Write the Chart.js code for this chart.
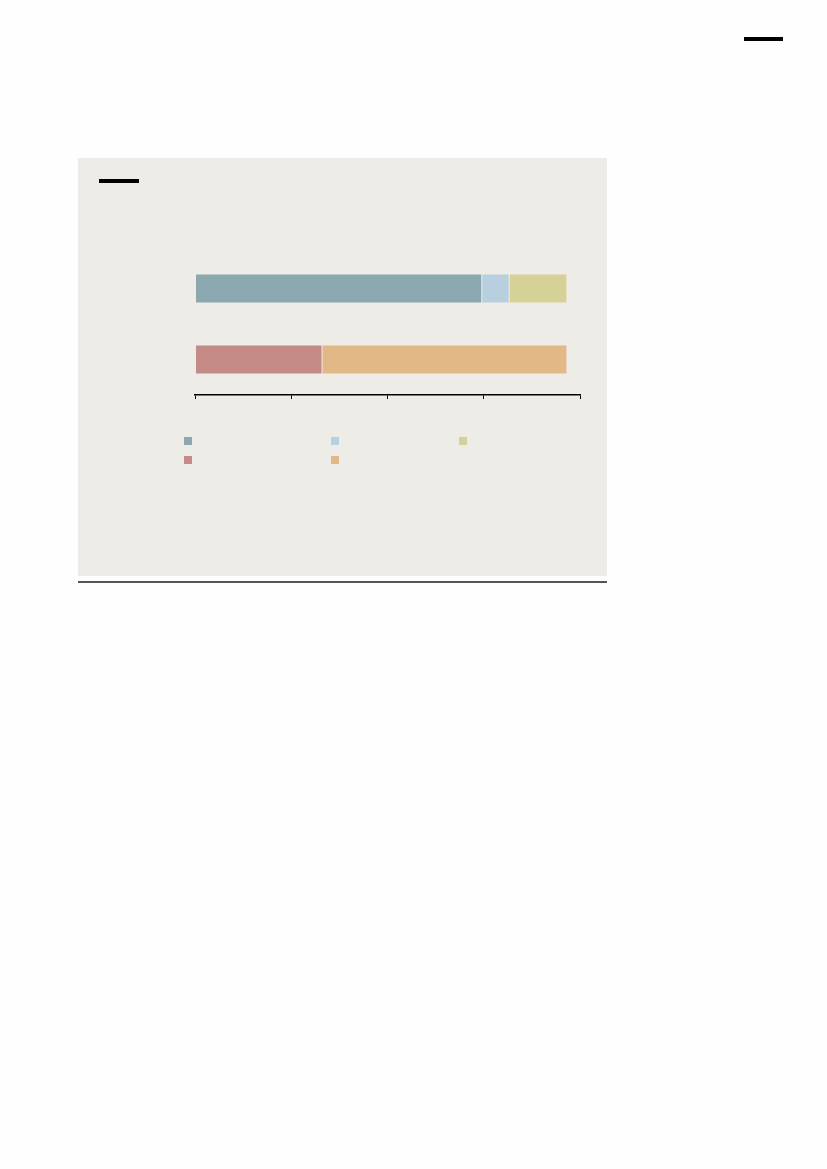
<!DOCTYPE html>
<html>
<head>
<meta charset="utf-8">
<script src="https://cdn.jsdelivr.net/npm/chart.js@4.4.1/dist/chart.umd.min.js"></script>
<style>
  html, body { margin: 0; padding: 0; background: #fefefe; }
  body { width: 827px; height: 1169px; position: relative; font-family: "Liberation Sans", Arial, sans-serif; }
  .rule-top { position: absolute; left: 744px; top: 37px; width: 39px; height: 4px; background: #000; }
  .panel { position: absolute; left: 78px; top: 158px; width: 529px; height: 418px; background: #edece6; }
  .rule-panel { position: absolute; left: 99px; top: 179px; width: 40px; height: 4px; background: #000; }
  .base { position: absolute; left: 78px; top: 581px; width: 529px; height: 2px; background: #555; }
  .wrap { position: absolute; left: 175px; top: 243px; width: 420px; height: 156px; }
  #legend { position: absolute; left: 184px; top: 437px; width: 400px; }
  .item { position: absolute; width: 8px; height: 8px; box-sizing: border-box; }
</style>
</head>
<body>
<div class="rule-top"></div>
<div class="panel"></div>
<div class="rule-panel"></div>
<div class="base"></div>
<div class="wrap"><canvas id="chart"></canvas></div>
<div id="legend"></div>
<script>
// two rows, each a stacked share
const categories = ["", ""];
const seriesLabels = ["", "", "", "", ""];
const seriesColors = ["#8ba8b0", "#b7cfdf", "#d6d196", "#c48a85", "#e2b887"];
const topRow = [74.5, 7.1, 15.0];
const bottomRow = [33.0, 63.6];
const xTicks = [0, 25, 50, 75, 100];

const datasets = seriesLabels.map((label, i) => ({
  label: label,
  data: i < 3 ? [topRow[i], null] : [null, bottomRow[i - 3]],
  backgroundColor: seriesColors[i],
  borderColor: "rgba(255,255,255,0.12)",
  borderWidth: 0.5,
  borderSkipped: false,
  barPercentage: 0.41,
  categoryPercentage: 1.0,
}));

const ctx = document.getElementById("chart").getContext("2d");
new Chart(ctx, {
  type: "bar",
  data: { labels: categories, datasets: datasets },
  options: {
    indexAxis: "y",
    responsive: true,
    maintainAspectRatio: false,
    animation: false,
    layout: { padding: { left: 20, right: 15, top: 10, bottom: 0 } },
    plugins: { legend: { display: false }, tooltip: { enabled: false } },
    scales: {
      x: {
        stacked: true,
        min: xTicks[0],
        max: xTicks[xTicks.length - 1],
        afterBuildTicks: (scale) => { scale.ticks = xTicks.map((v) => ({ value: v })); },
        grid: { drawOnChartArea: false, drawTicks: true, tickLength: 4, color: "#000", lineWidth: 1 },
        border: { display: true, color: "#000", width: 1.5 },
        ticks: { display: false },
      },
      y: {
        stacked: true,
        display: false,
      },
    },
  },
});

// legend: three columns, two rows
const legendCols = [0, 147, 275];
const legend = document.getElementById("legend");
seriesColors.forEach((c, i) => {
  const el = document.createElement("div");
  el.className = "item";
  el.style.left = legendCols[i % 3] + "px";
  el.style.top = Math.floor(i / 3) * 19 + "px";
  el.style.background = c;
  el.title = seriesLabels[i];
  legend.appendChild(el);
});
</script>
</body>
</html>
